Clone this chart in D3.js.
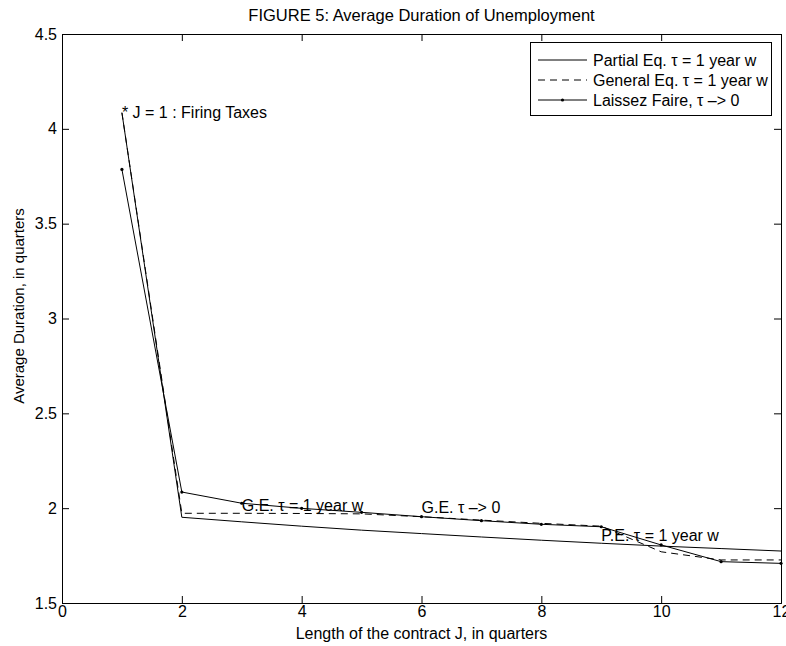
<!DOCTYPE html>
<html>
<head>
<meta charset="utf-8">
<script src="https://cdn.jsdelivr.net/npm/d3@7"></script>
<style>
  body { margin: 0; background: #fff; }
  text { font-family: "Liberation Sans", Arial, sans-serif; }
</style>
</head>
<body>
<div id="chart"></div>
<script>

// contract length J (quarters)
const contractJ = [1, 2, 3, 4, 5, 6, 7, 8, 9, 10, 11, 12];

// average duration of unemployment, in quarters
const partialEq = [4.085, 1.952, 1.928, 1.905, 1.884, 1.866, 1.848, 1.831, 1.815, 1.800, 1.787, 1.774];
const generalEq = [4.085, 1.973, 1.973, 1.972, 1.970, 1.955, 1.937, 1.920, 1.905, 1.770, 1.727, 1.727];
const laissezFaire = [3.786, 2.085, 2.026, 1.999, 1.978, 1.955, 1.934, 1.915, 1.902, 1.806, 1.718, 1.709];

const xTicks = [0, 2, 4, 6, 8, 10, 12];
const yTicks = [1.5, 2, 2.5, 3, 3.5, 4, 4.5];

const seriesNames = ["Partial Eq. \u03c4 = 1 year w", "General Eq. \u03c4 = 1 year w", "Laissez Faire, \u03c4 \u2013> 0"];

// text notes placed inside the plot
const notes = [
  {x: 1, y: 4.085, label: "* J = 1 : Firing Taxes"},
  {x: 3, y: 2.017, label: "G.E. \u03c4 = 1 year w"},
  {x: 6, y: 2.006, label: "G.E. \u03c4 \u2013> 0"},
  {x: 9, y: 1.858, label: "P.E. \u03c4 = 1 year w"}
];

const width = 786;
const height = 646;
const margin = {left: 62, right: 5, top: 34, bottom: 43};
const fontSize = 16;

const svg = d3.select("#chart")
  .append("svg")
  .attr("width", width)
  .attr("height", height);

let xScale = d3.scaleLinear()
  .domain([0, 12])
  .range([margin.left, width - margin.right]);

let yScale = d3.scaleLinear()
  .domain([1.5, 4.5])
  .range([height - margin.bottom, margin.top]);

// title
svg.append("text")
  .attr("x", (margin.left + width - margin.right) / 2)
  .attr("y", 21)
  .attr("text-anchor", "middle")
  .attr("font-size", "16.5px")
  .text("FIGURE 5: Average Duration of Unemployment");

// axes, ticks pointing inward like matlab
const tickLen = 7;
const xAxis = svg.append("g")
  .attr("transform", `translate(0,${height - margin.bottom})`)
  .call(d3.axisBottom(xScale).tickValues(xTicks).tickSize(-tickLen).tickPadding(3).tickFormat(d3.format("d")));
const yAxis = svg.append("g")
  .attr("transform", `translate(${margin.left},0)`)
  .call(d3.axisLeft(yScale).tickValues(yTicks).tickSize(-tickLen).tickPadding(5).tickFormat(d => d));
const xTop = svg.append("g")
  .attr("transform", `translate(0,${margin.top})`)
  .call(d3.axisTop(xScale).tickValues(xTicks).tickSize(-tickLen).tickFormat(""));
const yRight = svg.append("g")
  .attr("transform", `translate(${width - margin.right},0)`)
  .call(d3.axisRight(yScale).tickValues(yTicks).tickSize(-tickLen).tickFormat(""));

[xAxis, yAxis, xTop, yRight].forEach(g => {
  g.select(".domain").attr("stroke", "#000").attr("stroke-width", 1);
  g.selectAll(".tick line").attr("stroke", "#000");
  g.selectAll("text").attr("font-size", fontSize + "px").attr("fill", "#000")
    .style("font-family", "'Liberation Sans', Arial, sans-serif");
});

// axis labels
svg.append("text")
  .attr("x", (margin.left + width - margin.right) / 2)
  .attr("y", 639)
  .attr("text-anchor", "middle")
  .attr("font-size", fontSize + "px")
  .text("Length of the contract J, in quarters");

svg.append("text")
  .attr("transform", `translate(24,306) rotate(-90)`)
  .attr("text-anchor", "middle")
  .attr("font-size", "15px")
  .text("Average Duration, in quarters");

// lines
const line = d3.line()
  .x((d, i) => xScale(contractJ[i]))
  .y(d => yScale(d));

const series = [
  {values: partialEq, dash: null, dots: false},
  {values: generalEq, dash: "7,5", dots: false},
  {values: laissezFaire, dash: null, dots: true}
];

series.forEach(s => {
  svg.append("path")
    .datum(s.values)
    .attr("fill", "none")
    .attr("stroke", "#000")
    .attr("stroke-width", 1)
    .attr("stroke-dasharray", s.dash)
    .attr("d", line);
  if (s.dots) {
    svg.selectAll(null)
      .data(s.values)
      .enter()
      .append("circle")
      .attr("cx", (d, i) => xScale(contractJ[i]))
      .attr("cy", d => yScale(d))
      .attr("r", 1.6)
      .attr("fill", "#000");
  }
});

// notes
svg.selectAll(".note")
  .data(notes)
  .enter()
  .append("text")
  .attr("class", "note")
  .attr("x", d => xScale(d.x))
  .attr("y", d => yScale(d.y))
  .attr("dy", "0.35em")
  .attr("font-size", fontSize + "px")
  .text(d => d.label);

// legend
const legend = svg.append("g");
legend.append("rect")
  .attr("x", 530.5)
  .attr("y", 42.5)
  .attr("width", 241)
  .attr("height", 73)
  .attr("fill", "#fff")
  .attr("stroke", "#000");

seriesNames.forEach((name, i) => {
  const yy = 60 + i * 20;
  legend.append("line")
    .attr("x1", 538).attr("x2", 587)
    .attr("y1", yy).attr("y2", yy)
    .attr("stroke", "#000")
    .attr("stroke-dasharray", series[i].dash);
  if (series[i].dots) {
    legend.append("circle").attr("cx", 562.5).attr("cy", yy).attr("r", 1.6).attr("fill", "#000");
  }
  legend.append("text")
    .attr("x", 593)
    .attr("y", yy)
    .attr("dy", "0.35em")
    .attr("font-size", fontSize + "px")
    .text(name);
});

</script>
</body>
</html>
